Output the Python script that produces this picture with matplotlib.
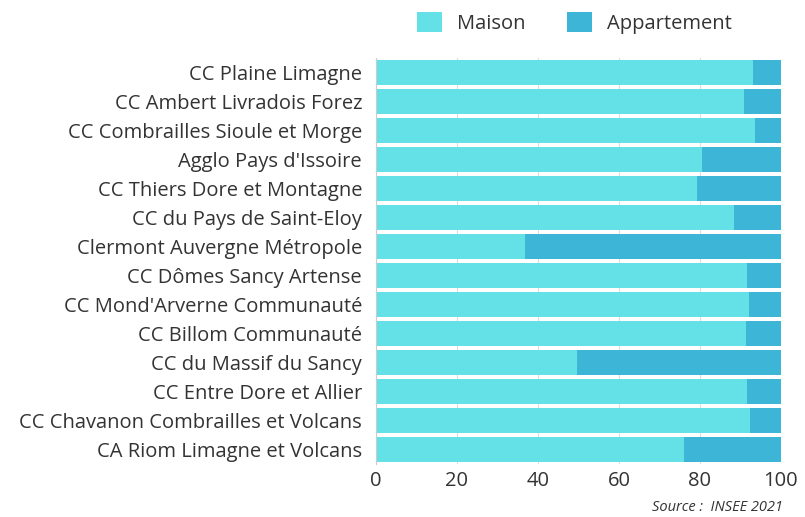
import matplotlib.pyplot as plt
import numpy as np

plt.rcParams['font.family'] = ['Open Sans', 'DejaVu Sans']

# Part des résidences principales par type de logement (%)
territoires = [
    "CC Plaine Limagne",
    "CC Ambert Livradois Forez",
    "CC Combrailles Sioule et Morge",
    "Agglo Pays d'Issoire",
    "CC Thiers Dore et Montagne",
    "CC du Pays de Saint-Eloy",
    "Clermont Auvergne Métropole",
    "CC Dômes Sancy Artense",
    "CC Mond'Arverne Communauté",
    "CC Billom Communauté",
    "CC du Massif du Sancy",
    "CC Entre Dore et Allier",
    "CC Chavanon Combrailles et Volcans",
    "CA Riom Limagne et Volcans",
]
maison = [93.0, 90.8, 93.5, 80.6, 79.3, 88.5, 36.8, 91.7, 92.2, 91.3, 49.6, 91.7, 92.4, 76.2]
appartement = [100 - m for m in maison]

couleur_maison = '#63E1E7'
couleur_appart = '#3DB5D7'
texte = '#333333'

fig = plt.figure(figsize=(8.05, 5.17), dpi=100)
ax = fig.add_axes([0.467, 0.102, 0.503, 0.786])

y = np.arange(len(territoires))
ax.barh(y, maison, height=0.86, color=couleur_maison, label='Maison', zorder=2)
ax.barh(y, appartement, left=maison, height=0.86, color=couleur_appart,
        label='Appartement', zorder=2)

ax.set_ylim(len(territoires) - 0.5, -0.5)
ax.set_xlim(0, 100)
ax.set_yticks(y)
ax.set_yticklabels(territoires, fontsize=14.5, color=texte)
ax.set_xticks([0, 20, 40, 60, 80, 100])
ax.tick_params(axis='x', labelsize=14.5, labelcolor=texte, length=0, pad=5)
ax.tick_params(axis='y', length=0, pad=10)
ax.grid(axis='x', color='#dddddd', linewidth=0.8, zorder=0)

for s in ['top', 'right', 'bottom']:
    ax.spines[s].set_visible(False)
ax.spines['left'].set_color('#cccccc')

ax.legend(loc='lower center', bbox_to_anchor=(0.49, 1.06), ncol=2, frameon=False,
          fontsize=14.5, labelcolor=texte, handlelength=1.25, handleheight=1.15,
          columnspacing=2.05, handletextpad=0.75, borderaxespad=0, borderpad=0)

fig.text(0.973, 0.004, 'Source :  INSEE 2021', ha='right', va='bottom',
         fontsize=10.5, style='italic', color=texte)

fig.savefig('out.png', dpi=100)
